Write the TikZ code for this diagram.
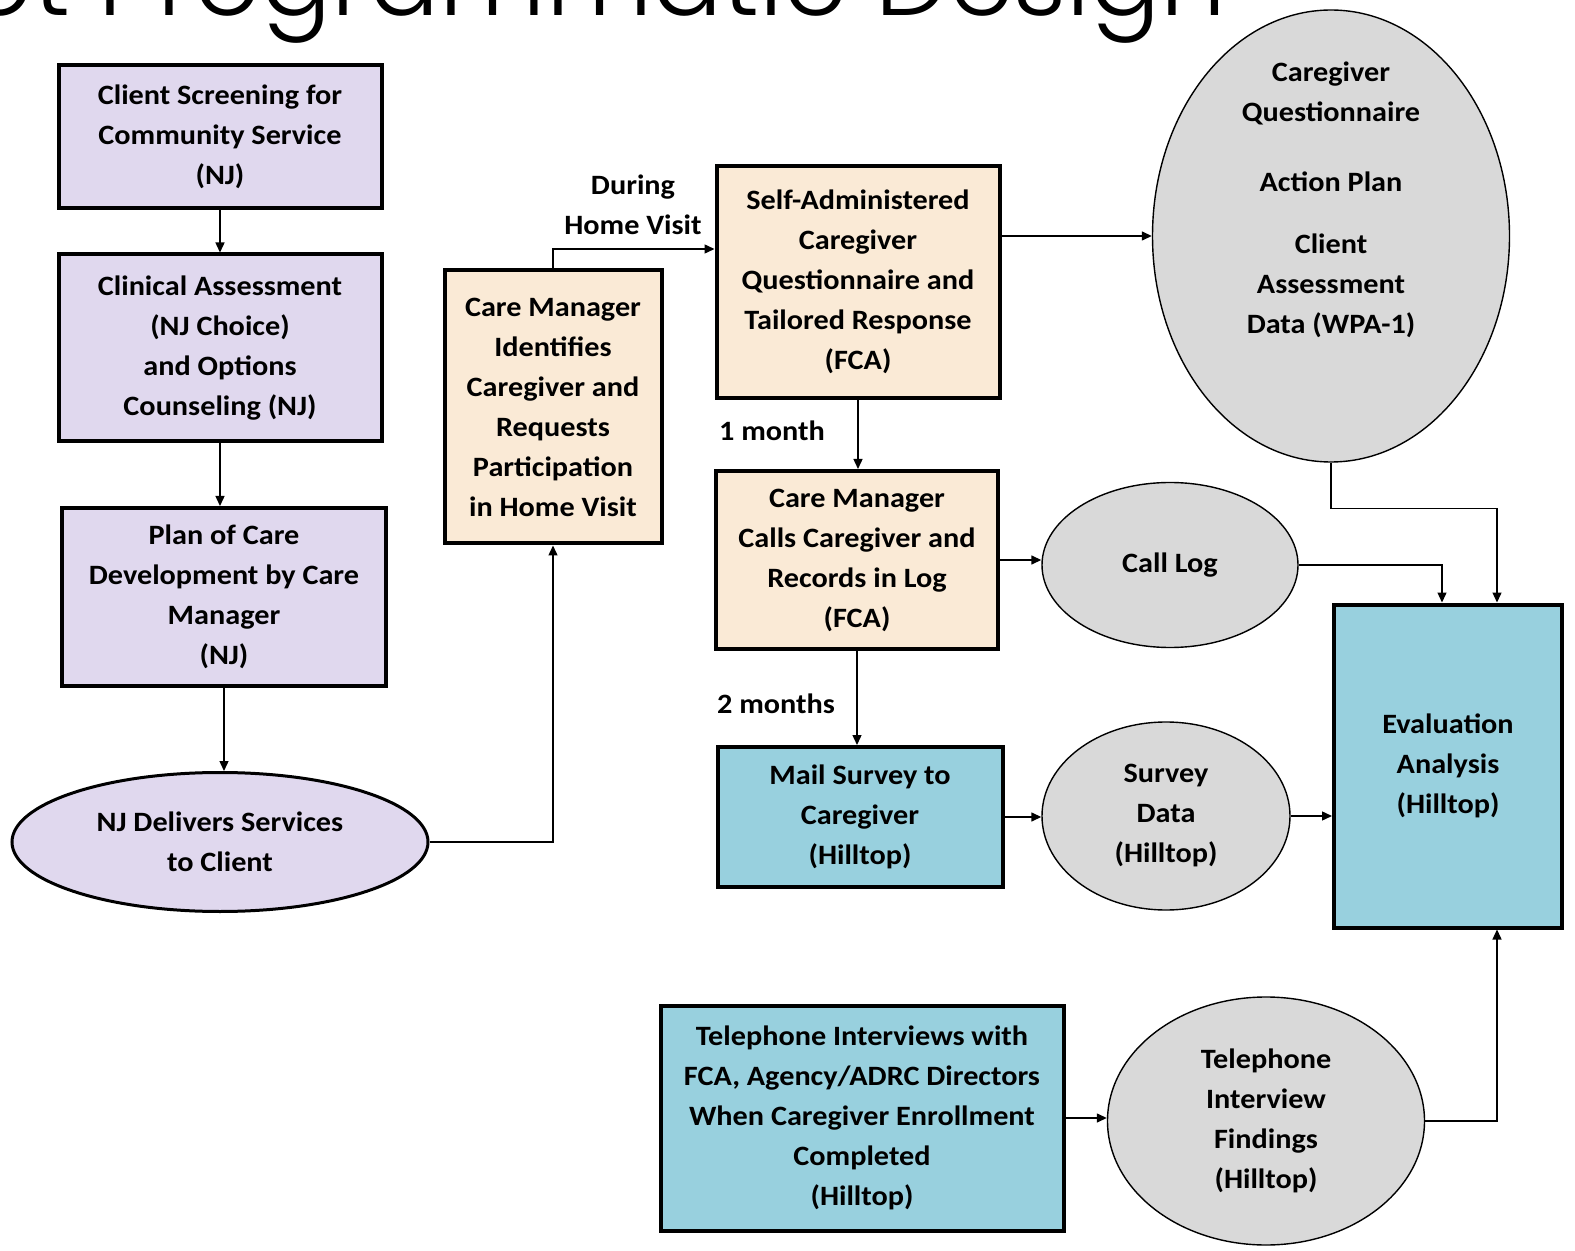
\documentclass[tikz,border=0pt]{standalone}
\usepackage{fontspec}
\setmainfont{Carlito}[FakeStretch=1.08]
\newfontfamily\titlefont{Poppins Light}
\usetikzlibrary{shapes.geometric,arrows.meta}
\definecolor{lav}{RGB}{224,216,238}
\definecolor{tanfill}{RGB}{250,234,214}
\definecolor{aqua}{RGB}{152,208,222}
\definecolor{cgray}{RGB}{217,217,217}
\tikzset{
  every node/.style={font=\fontsize{14}{20}\selectfont\bfseries, align=center},
  njbox/.style={draw, line width=2pt, fill=lav},
  fcabox/.style={draw, line width=2pt, fill=tanfill},
  hillbox/.style={draw, line width=2pt, fill=aqua},
  datacirc/.style={ellipse, draw, line width=0.7pt, fill=cgray, inner sep=0pt},
  link/.style={->, line width=0.7pt},
  >={Triangle[length=5pt,width=4.5pt]}
}
\begin{document}
\begin{tikzpicture}[x=0.5pt,y=-0.5pt]
\useasboundingbox (0,0) rectangle (1575,1251);
\begin{scope}
\clip (0,0) rectangle (1575,1251);
\node[font=\titlefont\fontsize{52}{60}\selectfont, anchor=base east, inner sep=0pt] (title) at (1227,16) {Pilot Programmatic Design};
\end{scope}

\node[njbox, minimum width=161.5pt, minimum height=71.5pt] (screen) at (220,137) {Client Screening for\\Community Service\\(NJ)};
\node[njbox, minimum width=161.5pt, minimum height=93.5pt] (assess) at (220,348) {Clinical Assessment\\(NJ Choice)\\and Options\\Counseling (NJ)};
\node[njbox, minimum width=162pt, minimum height=89pt] (plan) at (224,597) {Plan of Care\\Development by Care\\Manager\\(NJ)};
\node[ellipse, draw, line width=1.5pt, fill=lav, minimum width=208pt, minimum height=69.5pt, inner sep=0pt] (deliver) at (220,842) {NJ Delivers Services\\to Client};

\node[fcabox, minimum width=108.5pt, minimum height=136.5pt] (identify) at (553,407) {Care Manager\\Identifies\\Caregiver and\\Requests\\Participation\\in Home Visit};
\node[fcabox, minimum width=141.5pt, minimum height=116pt] (selfq) at (858,282) {Self-Administered\\Caregiver\\Questionnaire and\\Tailored Response\\(FCA)};
\node[fcabox, minimum width=141pt, minimum height=89pt] (calls) at (857,560) {Care Manager\\Calls Caregiver and\\Records in Log\\(FCA)};
\node[hillbox, minimum width=142.5pt, minimum height=70pt] (mail) at (860,817) {Mail Survey to\\Caregiver\\(Hilltop)};
\node[hillbox, minimum width=201.5pt, minimum height=112.5pt] (phone) at (862,1118) {Telephone Interviews with\\FCA, Agency/ADRC Directors\\When Caregiver Enrollment\\Completed\\(Hilltop)};
\node[hillbox, minimum width=114pt, minimum height=161.5pt] (eval) at (1448,766) {Evaluation\\Analysis\\(Hilltop)};

\node[datacirc, minimum width=178.5pt, minimum height=226pt] (qdata) at (1331,236) {};
\node (qtext) at (1331,200) {Caregiver\\Questionnaire\\[15pt]Action Plan\\[11pt]Client\\Assessment\\Data (WPA-1)};
\node[datacirc, minimum width=128pt, minimum height=82.5pt] (calllog) at (1170,565) {Call Log};
\node[datacirc, minimum width=124pt, minimum height=94pt] (survey) at (1166,816) {Survey\\Data\\(Hilltop)};
\node[datacirc, minimum width=158.5pt, minimum height=124pt] (findings) at (1266,1121) {Telephone\\Interview\\Findings\\(Hilltop)};

\node (visit) at (633,205) {During\\Home Visit};
\node (month1) at (772,431) {1 month};
\node (month2) at (776,704) {2 months};

\draw[link] (screen) -- (assess);
\draw[link] (assess.south) -- (assess.south |- plan.north);
\draw[link] (plan.south) -- (plan.south |- deliver.north);
\draw[link] (deliver.east) -| (identify.south);
\draw[link] (identify.north) |- ([yshift=16.5pt]selfq.west);
\draw[link] (selfq.east |- qdata.west) -- (qdata.west);
\draw[link] (selfq.south) -- (selfq.south |- calls.north);
\draw[link] (calls.south) -- (calls.south |- mail.north);
\draw[link] (calls.east) -- (calls.east -| calllog.west);
\draw[link] (calllog.east) -| ([xshift=-3pt]eval.north);
\draw[link] (qdata.south) -- ++(0,46) -| ([xshift=24.5pt]eval.north);
\draw[link] (mail.east) -- (mail.east -| survey.west);
\draw[link] (survey.east) -- (survey.east -| eval.west);
\draw[link] (phone.east) -- (phone.east -| findings.west);
\draw[link] (findings.east) -| ([xshift=24.5pt]eval.south);
\end{tikzpicture}
\end{document}
